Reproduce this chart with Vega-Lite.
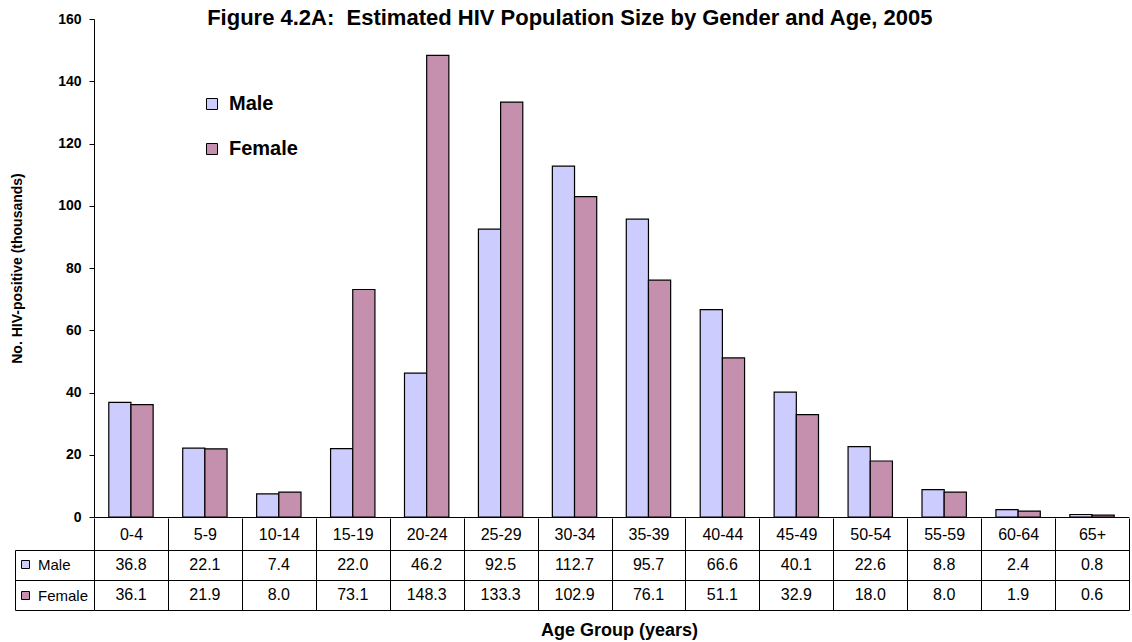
{
  "$schema": "https://vega.github.io/schema/vega-lite/v6.json",
  "autosize": {"type": "pad"},
  "padding": {"left": 10, "top": 7, "right": 0, "bottom": 0},
  "background": "white",
  "config": {
    "font": "Liberation Sans",
    "view": {"stroke": null},
    "axis": {"labelColor": "black", "titleColor": "black", "domainColor": "black", "tickColor": "black", "gridColor": "black", "labelFont": "Liberation Sans", "titleFont": "Liberation Sans"},
    "legend": {"labelFont": "Liberation Sans", "labelColor": "black"}
  },
  "spacing": -7,
  "datasets": {
    "hiv": [
      {"age": "0-4", "gender": "Male", "value": 36.8},
      {"age": "0-4", "gender": "Female", "value": 36.1},
      {"age": "5-9", "gender": "Male", "value": 22.1},
      {"age": "5-9", "gender": "Female", "value": 21.9},
      {"age": "10-14", "gender": "Male", "value": 7.4},
      {"age": "10-14", "gender": "Female", "value": 8.0},
      {"age": "15-19", "gender": "Male", "value": 22.0},
      {"age": "15-19", "gender": "Female", "value": 73.1},
      {"age": "20-24", "gender": "Male", "value": 46.2},
      {"age": "20-24", "gender": "Female", "value": 148.3},
      {"age": "25-29", "gender": "Male", "value": 92.5},
      {"age": "25-29", "gender": "Female", "value": 133.3},
      {"age": "30-34", "gender": "Male", "value": 112.7},
      {"age": "30-34", "gender": "Female", "value": 102.9},
      {"age": "35-39", "gender": "Male", "value": 95.7},
      {"age": "35-39", "gender": "Female", "value": 76.1},
      {"age": "40-44", "gender": "Male", "value": 66.6},
      {"age": "40-44", "gender": "Female", "value": 51.1},
      {"age": "45-49", "gender": "Male", "value": 40.1},
      {"age": "45-49", "gender": "Female", "value": 32.9},
      {"age": "50-54", "gender": "Male", "value": 22.6},
      {"age": "50-54", "gender": "Female", "value": 18.0},
      {"age": "55-59", "gender": "Male", "value": 8.8},
      {"age": "55-59", "gender": "Female", "value": 8.0},
      {"age": "60-64", "gender": "Male", "value": 2.4},
      {"age": "60-64", "gender": "Female", "value": 1.9},
      {"age": "65+", "gender": "Male", "value": 0.8},
      {"age": "65+", "gender": "Female", "value": 0.6}
    ]
  },
  "resolve": {"scale": {"x": "independent", "y": "independent", "color": "shared"}, "legend": {"color": "independent"}, "axis": {"x": "independent", "y": "independent"}},
  "vconcat": [
    {
      "width": 1035,
      "height": 498,
      "title": {"text": "Figure 4.2A:\u00a0 Estimated HIV Population Size by Gender and Age, 2005", "fontSize": 22, "fontWeight": "bold", "color": "black", "anchor": "middle", "frame": "bounds", "offset": -18},
      "data": {"name": "hiv"},
      "mark": {"type": "bar", "stroke": "black", "strokeWidth": 1.2},
      "encoding": {
        "x": {"field": "age", "type": "nominal", "sort": null, "scale": {"paddingInner": 0.4, "paddingOuter": 0.2},
              "axis": {"labels": false, "ticks": false, "title": null, "domainWidth": 1, "minExtent": 0, "maxExtent": 0}},
        "xOffset": {"field": "gender", "type": "nominal", "sort": ["Male", "Female"], "scale": {"paddingInner": 0}},
        "y": {"field": "value", "type": "quantitative", "scale": {"domain": [0, 160], "nice": false},
              "axis": {"values": [0, 20, 40, 60, 80, 100, 120, 140, 160], "grid": false, "labelFontSize": 14, "labelFontWeight": "bold", "tickSize": 5, "labelPadding": 8,
                       "title": "No. HIV-positive (thousands)", "titleFontSize": 14, "titleFontWeight": "bold", "titlePadding": 33}},
        "color": {"field": "gender", "type": "nominal",
                  "scale": {"domain": ["Male", "Female"], "range": ["#CCCCFF", "#C590AE"]},
                  "legend": {"orient": "none", "legendX": 108, "legendY": 75, "title": null, "symbolType": "square", "symbolSize": 121, "symbolStrokeColor": "black", "symbolStrokeWidth": 1, "symbolOpacity": 1, "labelFontSize": 20, "labelFontWeight": "bold", "labelOffset": 7, "rowPadding": 25}}
      }
    },
    {
      "width": 1035,
      "height": 60,
      "title": {"text": "Age Group (years)", "orient": "bottom", "fontSize": 18, "fontWeight": "bold", "color": "black", "anchor": "middle", "frame": "group", "offset": 11, "dx": 8},
      "data": {"name": "hiv"},
      "encoding": {
        "x": {"field": "age", "type": "nominal", "sort": null, "scale": {"paddingInner": 0, "paddingOuter": 0},
              "axis": {"orient": "top", "title": null, "tickBand": "extent", "tickSize": 32, "labelPadding": -16, "labelBaseline": "middle", "labelAngle": 0, "labelFontSize": 16, "grid": true, "gridColor": "black", "gridWidth": 1, "domainWidth": 1, "minExtent": 0}},
        "y": {"field": "gender", "type": "nominal", "sort": ["Male", "Female"], "scale": {"paddingInner": 0, "paddingOuter": 0},
              "axis": {"orient": "left", "title": null, "tickBand": "extent", "offset": 79, "tickSize": -79, "labels": false, "grid": true, "gridColor": "black", "domainWidth": 1}}
      },
      "layer": [
        {"mark": {"type": "text", "fontSize": 16, "color": "black"},
         "encoding": {"text": {"field": "value", "type": "quantitative", "format": ".1f"}}},
        {"mark": {"type": "square", "opacity": 0},
         "encoding": {
           "color": {"field": "gender", "type": "nominal",
                     "legend": {"orient": "none", "legendX": -76, "legendY": 7, "title": null, "symbolType": "square", "symbolSize": 64, "symbolStrokeColor": "black", "symbolStrokeWidth": 1, "symbolOpacity": 1, "labelFontSize": 15, "labelOffset": 5, "rowPadding": 15}}
         }}
      ]
    }
  ]
}
